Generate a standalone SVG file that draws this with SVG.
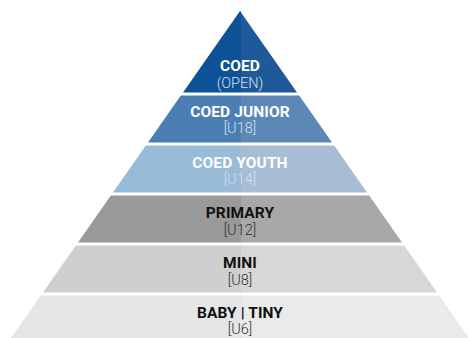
<svg xmlns="http://www.w3.org/2000/svg" width="468" height="338" viewBox="0 0 468 338">
<style>
.t{font-family:Roboto,"Liberation Sans",sans-serif;font-weight:700;font-size:15.5px;text-anchor:middle;letter-spacing:0.1px}
.s{font-family:Roboto,"Liberation Sans",sans-serif;font-weight:300;font-size:14.5px;text-anchor:middle}
.w{fill:#ffffff}
.wl{fill:#d4e0ee}
.k{fill:#111111}
.kl{fill:#333333}
</style>
<rect width="468" height="338" fill="#ffffff"/>
<g id="coed">
<polygon points="240,11 241,11.7 241,92.5 183,92.5" fill="#0d5296"/>
<polygon points="240,11 297,92.5 241,92.5 241,11.7" fill="#1e5a99"/>
<text class="t w" x="240" y="71">COED</text>
<text class="s wl" x="240" y="87.5">(OPEN)</text>
</g>
<g id="coed-junior">
<polygon points="180.8,95.5 241,95.5 241,142.5 148,142.5" fill="#4b7fb3"/>
<polygon points="241,95.5 299.2,95.5 332,142.5 241,142.5" fill="#5b88b6"/>
<text class="t w" x="240" y="117">COED JUNIOR</text>
<text class="s wl" x="240" y="133">[U18]</text>
</g>
<g id="coed-youth">
<polygon points="145.8,145.5 241,145.5 241,192.5 113,192.5" fill="#98bbd8"/>
<polygon points="241,145.5 334.2,145.5 367,192.5 241,192.5" fill="#a8bcd6"/>
<text class="t w" x="240" y="167.5">COED YOUTH</text>
<text class="s wl" x="240" y="184">[U14]</text>
</g>
<g id="primary">
<polygon points="110.8,195.5 241,195.5 241,242.5 78,242.5" fill="#9a9a9a"/>
<polygon points="241,195.5 369.2,195.5 402,242.5 241,242.5" fill="#a8a8a8"/>
<text class="t k" x="240" y="217.5">PRIMARY</text>
<text class="s kl" x="240" y="234.5">[U12]</text>
</g>
<g id="mini">
<polygon points="75.8,245.5 241,245.5 241,292.5 43,292.5" fill="#cfcfcf"/>
<polygon points="241,245.5 404.2,245.5 437,292.5 241,292.5" fill="#d7d7d7"/>
<text class="t k" x="240" y="267.5">MINI</text>
<text class="s kl" x="240" y="284.5">[U8]</text>
</g>
<g id="baby-tiny">
<polygon points="40.8,295.5 241,295.5 241,338 11,338" fill="#e4e5e5"/>
<polygon points="241,295.5 439.2,295.5 469,338 241,338" fill="#e9eaea"/>
<text class="t k" x="240" y="318">BABY | TINY</text>
<text class="s kl" x="240" y="334.3">[U6]</text>
</g>
</svg>
